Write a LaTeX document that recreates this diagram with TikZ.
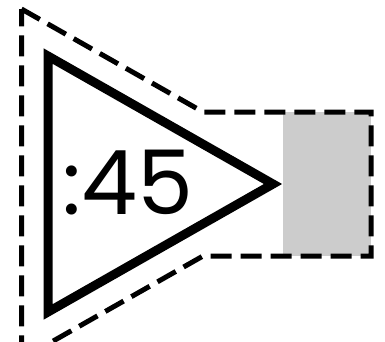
\documentclass[tikz,border=0pt]{standalone}
\usepackage{fontspec}
\newfontfamily\digitfont{Poppins}
\begin{document}
\begin{tikzpicture}[x=1pt,y=-1pt,
  outline/.style={draw=black,line width=5pt,dash pattern=on 21pt off 9pt,miter limit=10},
  tri/.style={draw=black,line width=9pt,miter limit=10},
  slot/.style={fill=black!20,draw=none}]
\useasboundingbox (0,0) rectangle (385,341);
\clip (0,0) rectangle (385,341);
\fill[slot] (283,112) rectangle (371,256);
\draw[outline] (21.5,9) -- (203,112) -- (371,112) -- (371,256) -- (203,256) -- (21.5,359) -- cycle;
\draw[tri] (48,56) -- (273,184) -- (48,312) -- cycle;
\node[inner sep=0pt] (lbl) at (128,183) {\digitfont\fontsize{89}{89}\selectfont :45};
\end{tikzpicture}
\end{document}
